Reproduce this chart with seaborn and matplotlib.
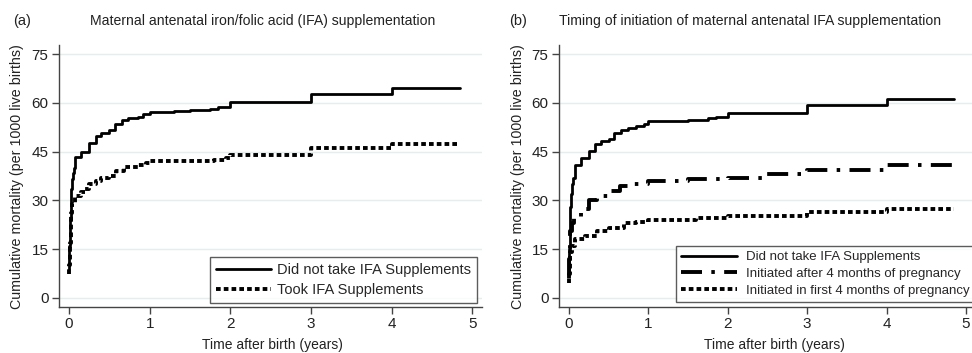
import numpy as np
import pandas as pd
import matplotlib
matplotlib.use("Agg")
import matplotlib.pyplot as plt
import seaborn as sns

# ---- data ----
# Panel (a)
a_none_t = [0.0, 0.005, 0.01, 0.02, 0.03, 0.04, 0.05, 0.06, 0.08, 0.15, 0.25, 0.33, 0.40, 0.49, 0.57, 0.66,
            0.73, 0.85, 0.92, 1.0, 1.3, 1.5, 1.75, 1.85, 2.0, 3.0, 4.0, 4.85]
a_none_v = [9.0, 16.0, 24.0, 30.0, 33.5, 36.5, 38.5, 40.0, 43.3, 45.0, 47.7, 49.7, 50.7, 51.5, 53.5, 54.8,
            55.3, 55.8, 56.5, 57.3, 57.5, 57.8, 58.2, 58.6, 60.3, 62.8, 64.6, 64.6]
a_took_t = [0.0, 0.005, 0.01, 0.02, 0.03, 0.04, 0.08, 0.15, 0.20, 0.25, 0.33, 0.40, 0.50, 0.58, 0.68, 0.85,
            0.95, 1.0, 1.8, 1.95, 2.0, 3.0, 4.0, 4.85]
a_took_v = [7.3, 10.0, 17.0, 23.0, 26.0, 29.0, 31.5, 32.5, 33.5, 35.0, 36.0, 36.8, 37.5, 39.0, 40.2, 40.8,
            41.5, 42.0, 42.5, 43.0, 44.0, 46.0, 47.2, 47.2]

# Panel (b)
b_none_t = [0.0, 0.005, 0.01, 0.02, 0.03, 0.04, 0.05, 0.08, 0.15, 0.25, 0.33, 0.40, 0.50, 0.57, 0.66, 0.75,
            0.85, 0.95, 1.0, 1.5, 1.75, 1.85, 2.0, 3.0, 4.0, 4.85]
b_none_v = [8.0, 15.0, 22.0, 28.0, 32.0, 35.0, 37.0, 41.0, 43.0, 45.3, 47.2, 48.2, 49.0, 50.8, 51.8, 52.3,
            52.8, 53.5, 54.3, 54.7, 55.2, 55.6, 56.8, 59.4, 61.3, 61.3]
b_late_t = [0.0, 0.005, 0.01, 0.02, 0.04, 0.06, 0.15, 0.25, 0.35, 0.50, 0.65, 0.80, 1.0, 1.5, 2.0, 2.5,
            3.0, 4.0, 4.85]
b_late_v = [6.0, 12.0, 17.0, 20.5, 23.0, 25.0, 27.5, 30.0, 31.5, 33.0, 34.5, 35.0, 36.0, 36.5, 37.0, 38.0,
            39.5, 40.8, 40.8]
b_early_t = [0.0, 0.005, 0.01, 0.02, 0.04, 0.08, 0.20, 0.35, 0.50, 0.70, 0.85, 1.0, 1.6, 2.0, 3.0, 4.0, 4.85]
b_early_v = [4.5, 7.5, 10.0, 14.0, 16.0, 18.0, 19.0, 20.5, 21.5, 23.0, 23.5, 24.0, 24.5, 25.2, 26.3, 27.2, 27.2]

lab_none = "Did not take IFA Supplements"
lab_took = "Took IFA Supplements"
lab_late = "Initiated after 4 months of pregnancy"
lab_early = "Initiated in first 4 months of pregnancy"

yticks = [0, 15, 30, 45, 60, 75]
xticks = [0, 1, 2, 3, 4, 5]

title_a = "Maternal antenatal iron/folic acid (IFA) supplementation"
title_b = "Timing of initiation of maternal antenatal IFA supplementation"
ylabel = "Cumulative mortality (per 1000 live births)"
xlabel = "Time after birth (years)"

# ---- styling ----
sns.set_theme(style="white")
plt.rcParams["font.family"] = ["Liberation Sans", "DejaVu Sans"]

fig = plt.figure(figsize=(9.72, 3.53), dpi=100)
ax_a = fig.add_axes([0.0607, 0.1303, 0.4352, 0.7422])
ax_b = fig.add_axes([0.5751, 0.1303, 0.4285, 0.7422])

TXT = "#222222"
SOLID = "-"
SHORTDASH = (0, (1.2, 0.8))
DASHDOT = (0, (5.4, 2.4, 0.9, 2.4))


def draw(ax, t, v, label, ls, lw):
    df = pd.DataFrame({"t": t, "v": v})
    sns.lineplot(data=df, x="t", y="v", ax=ax, color="black", linestyle=ls, linewidth=lw,
                 drawstyle="steps-post", estimator=None, sort=False, label=label)


draw(ax_a, a_none_t, a_none_v, lab_none, SOLID, 2.0)
draw(ax_a, a_took_t, a_took_v, lab_took, SHORTDASH, 2.8)

draw(ax_b, b_none_t, b_none_v, lab_none, SOLID, 2.0)
draw(ax_b, b_late_t, b_late_v, lab_late, DASHDOT, 2.8)
draw(ax_b, b_early_t, b_early_v, lab_early, SHORTDASH, 2.8)

for ax in (ax_a, ax_b):
    ax.set_xlim(-0.124, 5.12)
    ax.set_ylim(-2.8, 77.8)
    ax.set_xticks(xticks)
    ax.set_yticks(yticks)
    ax.set_xticklabels([str(x) for x in xticks], fontsize=11)
    ax.set_yticklabels([str(y) for y in yticks], fontsize=11)
    ax.set_xlabel("")
    ax.set_ylabel("")
    ax.grid(axis="y", color="#e4eeee", linewidth=1.0)
    ax.grid(axis="x", visible=False)
    for s in ("top", "right"):
        ax.spines[s].set_visible(False)
    for s in ("left", "bottom"):
        ax.spines[s].set_color("#444444")
        ax.spines[s].set_linewidth(1.0)
    ax.tick_params(axis="both", which="major", direction="out", length=5, width=1.0,
                   color="#444444", labelcolor=TXT, pad=2.5,
                   left=True, bottom=True)
    ax.set_facecolor("white")

leg_a = ax_a.legend(loc="lower right", bbox_to_anchor=(0.988, 0.015), frameon=True,
                    fancybox=False, edgecolor="#333333", fontsize=10.5, handlelength=3.8,
                    borderpad=0.4, labelspacing=0.42, handletextpad=0.4, borderaxespad=0)
leg_a.get_frame().set_linewidth(1.0)
leg_b = ax_b.legend(loc="lower left", bbox_to_anchor=(0.281, 0.019), frameon=True, fancybox=False,
                    edgecolor="#333333", fontsize=9.5, handlelength=4.2, borderpad=0.4,
                    labelspacing=0.34, handletextpad=0.7, borderaxespad=0)
leg_b.get_frame().set_linewidth(1.0)

# titles & labels
fig.text(0.0134, 0.94, "(a)", fontsize=10.5, ha="left", va="center", color=TXT)
fig.text(0.2706, 0.94, title_a, fontsize=10.1, ha="center", va="center", color=TXT)
fig.text(0.5237, 0.94, "(b)", fontsize=10.5, ha="left", va="center", color=TXT)
fig.text(0.7716, 0.94, title_b, fontsize=10.1, ha="center", va="center", color=TXT)

fig.text(0.0178, 0.499, ylabel, rotation=90, fontsize=10.3, ha="center", va="center", color=TXT)
fig.text(0.5325, 0.499, ylabel, rotation=90, fontsize=10.3, ha="center", va="center", color=TXT)
fig.text(0.280, 0.024, xlabel, fontsize=10.0, ha="center", va="center", color=TXT)
fig.text(0.7963, 0.024, xlabel, fontsize=10.0, ha="center", va="center", color=TXT)

fig.savefig("out.png", dpi=100, facecolor="white")
